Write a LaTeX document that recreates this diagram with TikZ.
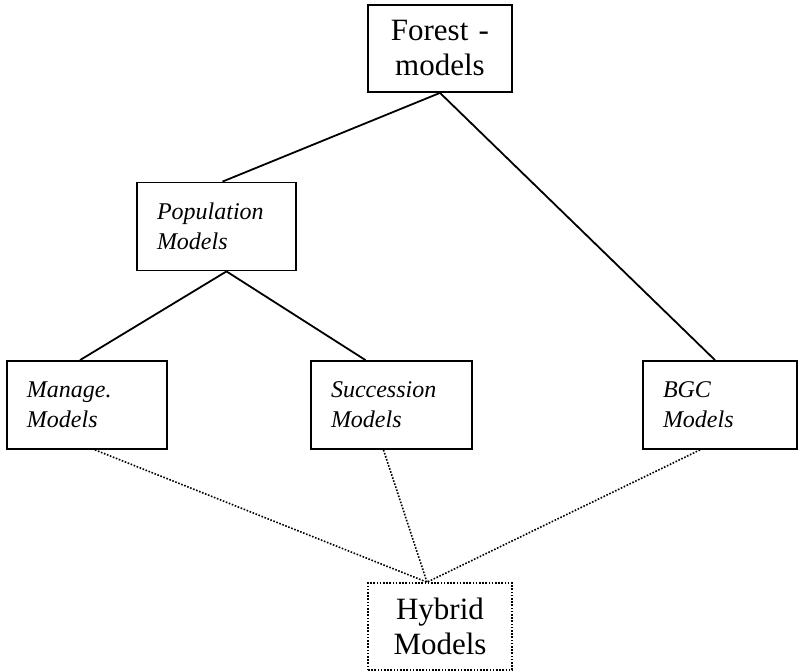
\documentclass[tikz,border=0pt]{standalone}
\usepackage{fontspec}
\setmainfont{Liberation Serif}
\usetikzlibrary{positioning}

\tikzset{
  mainbox/.style={draw, line width=1.8pt, minimum height=87pt, inner xsep=20pt,
    text width=104pt, align=center, font=\fontsize{31}{35}\selectfont},
  subbox/.style={draw, line width=1.8pt, minimum height=88pt, inner xsep=20pt,
    align=left, font=\fontsize{24}{30}\selectfont\itshape},
  tree/.style={line width=1.8pt},
  link/.style={line width=1.6pt, dash pattern=on 1.6pt off 1.6pt}
}

\begin{document}
\begin{tikzpicture}[x=1pt,y=-1pt]
  \useasboundingbox (0,0) rectangle (798,672);
  % boxes
  \node[mainbox] (forest) at (440,48.5) {Forest -\\models};
  \node[subbox, text width=119pt] (population) at (216.5,226.5) {Population\\Models};
  \node[subbox, text width=120pt] (manage) at (87,405) {Manage.\\Models};
  \node[subbox, text width=121pt] (succession) at (391.5,405) {Succession\\Models};
  \node[subbox, text width=114pt] (bgc) at (720,405) {BGC\\Models};
  \node[mainbox, link] (hybrid) at (440,626.5) {Hybrid\\Models};
  \coordinate (hub) at ([xshift=-13pt]hybrid.north);
  % tree
  \draw[tree] (forest.south) -- ([xshift=6pt]population.north);
  \draw[tree] (forest.south) -- ([xshift=-5pt]bgc.north);
  \draw[tree] ([xshift=10pt]population.south) -- ([xshift=-7pt]manage.north);
  \draw[tree] ([xshift=10pt]population.south) -- ([xshift=-26pt]succession.north);
  % hybrid links
  \draw[link] ([xshift=8pt]manage.south) -- (hub);
  \draw[link] ([xshift=-8pt]succession.south) -- (hub);
  \draw[link] ([xshift=-20pt]bgc.south) -- (hub);
\end{tikzpicture}
\end{document}
